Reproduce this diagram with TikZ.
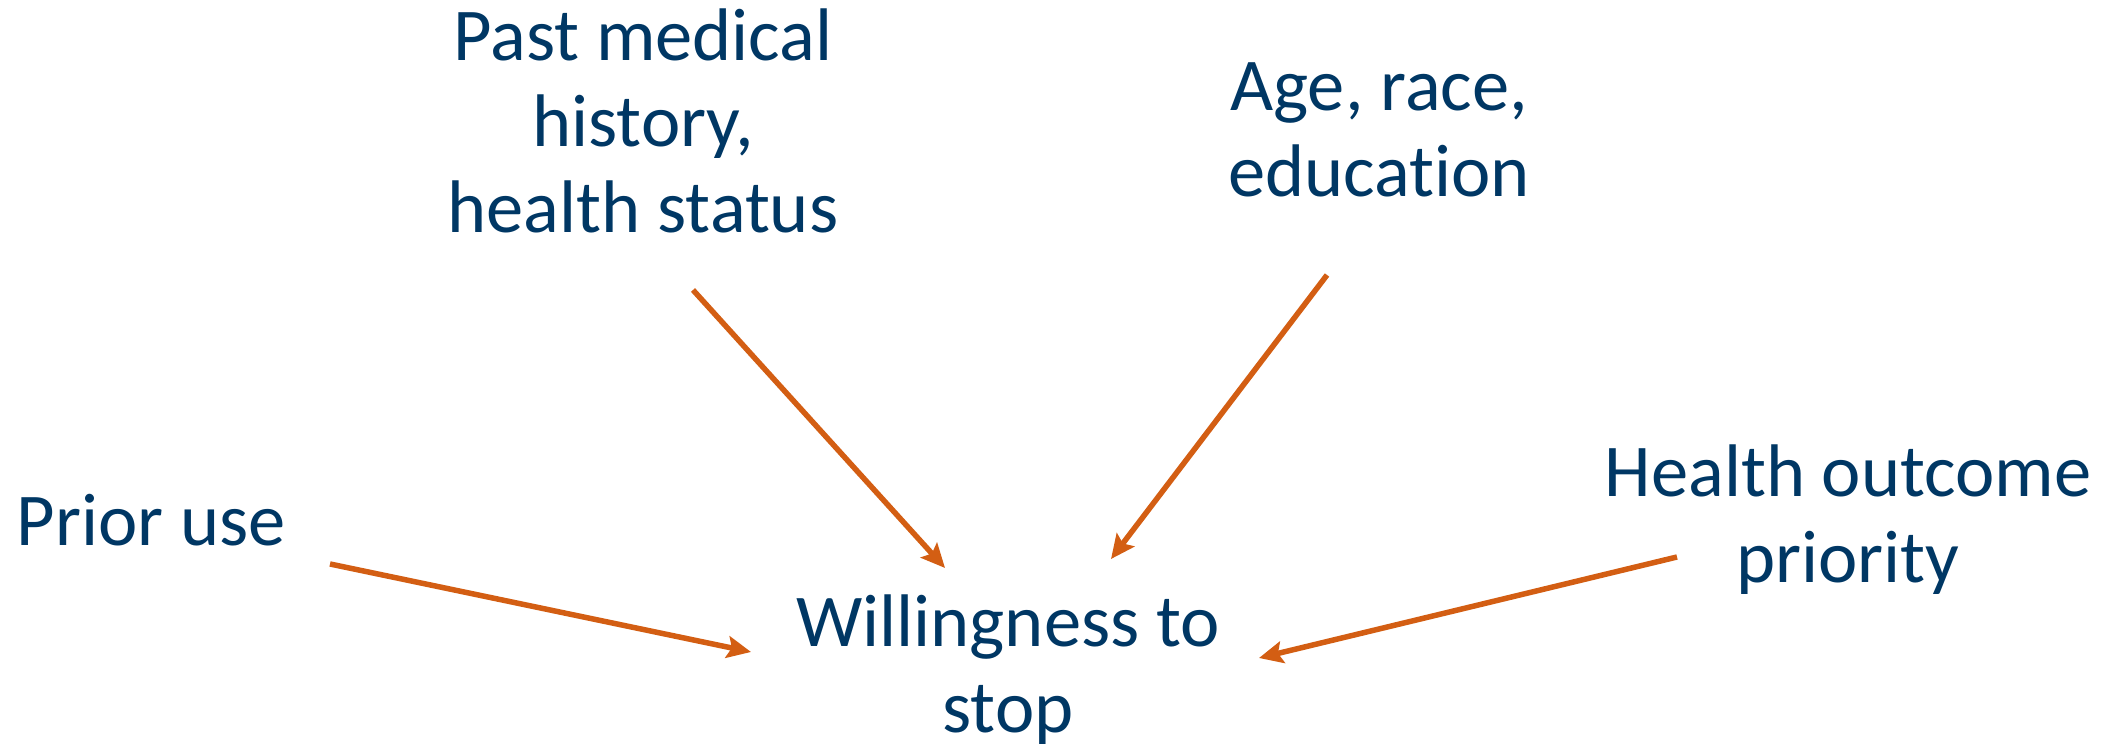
\documentclass[tikz,border=0pt]{standalone}
\usepackage{fontspec}
\setmainfont{Carlito}[Ligatures=NoCommon]
\usepackage{xcolor}
\definecolor{ink}{HTML}{003764}
\definecolor{acc2}{HTML}{D35E13}
\usetikzlibrary{arrows.meta}
\tikzset{
  >={Stealth[length=2.4mm,width=2.2mm,inset=0.45mm]},
  lab/.style={font=\fontsize{21.2}{24.6}\selectfont\color{ink},align=center,inner sep=0pt,anchor=base},
  arr/.style={->,draw=acc2,line width=0.55mm},
}
\begin{document}
\begin{tikzpicture}[x=1mm,y=1mm]
\useasboundingbox (0,0) rectangle (211.5,74.9);
% factors (anchored on the baseline of the last line)
\node[lab] (prior) at (15.1,20.3) {Prior use};
\node[lab] (past) at (64.3,51.6) {Past medical\\history,\\health status};
\node[lab] (age) at (137.9,55.2) {Age, race,\\education};
\node[lab] (hlth) at (184.8,16.6) {Health outcome\\priority};
% outcome
\node[lab] (will) at (100.8,1.6) {Willingness to\\stop};
% arrow ends
\coordinate (prior-o) at (33.0,18.5);
\coordinate (past-o) at (69.3,45.9);
\coordinate (age-o) at (132.7,47.4);
\coordinate (hlth-o) at (167.7,19.2);
\coordinate (will-w) at (75.1,9.7);
\coordinate (will-nw) at (94.5,18.1);
\coordinate (will-ne) at (111.1,19.0);
\coordinate (will-e) at (125.9,9.1);
\foreach \u/\v in {prior-o/will-w,past-o/will-nw,age-o/will-ne,hlth-o/will-e} \draw[arr] (\u)--(\v);
\end{tikzpicture}
\end{document}
